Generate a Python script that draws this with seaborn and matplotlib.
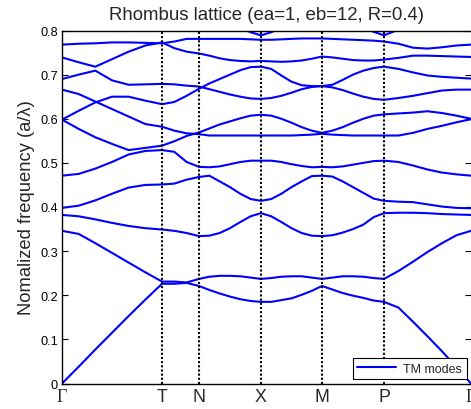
import numpy as np
import pandas as pd
import matplotlib
matplotlib.use("Agg")
import matplotlib.pyplot as plt
import seaborn as sns

# High-symmetry points of the k-path and their path positions
sym_labels = ["Γ", "T", "N", "X", "M", "P", "Γ"]
sym_k = [0.0, 1.00, 1.37, 1.99, 2.60, 3.22, 4.09]
seg_steps = [6, 3, 6, 6, 6, 6]  # k-samples in each segment

# TM band frequencies (a/lambda) at every k-sample
band_1 = [0.000, 0.038, 0.077, 0.115, 0.153, 0.190, 0.226, 0.226, 0.228, 0.221, 0.212, 0.204,
          0.197, 0.191, 0.187, 0.185, 0.185, 0.189, 0.193, 0.201, 0.210, 0.221, 0.213, 0.205,
          0.199, 0.194, 0.188, 0.185, 0.172, 0.140, 0.107, 0.073, 0.037, 0.000]
band_2 = [0.346, 0.339, 0.318, 0.296, 0.274, 0.252, 0.231, 0.231, 0.229, 0.237, 0.242, 0.244,
          0.244, 0.243, 0.240, 0.237, 0.239, 0.242, 0.243, 0.243, 0.240, 0.237, 0.240, 0.243,
          0.243, 0.242, 0.239, 0.237, 0.255, 0.276, 0.298, 0.318, 0.336, 0.346]
band_3 = [0.382, 0.379, 0.372, 0.364, 0.357, 0.352, 0.349, 0.346, 0.341, 0.334, 0.335, 0.341,
          0.352, 0.366, 0.379, 0.386, 0.379, 0.366, 0.352, 0.341, 0.335, 0.334, 0.336, 0.342,
          0.350, 0.360, 0.377, 0.386, 0.387, 0.387, 0.386, 0.384, 0.383, 0.382]
band_4 = [0.398, 0.403, 0.415, 0.430, 0.444, 0.450, 0.451, 0.453, 0.462, 0.468, 0.471, 0.458,
          0.445, 0.430, 0.418, 0.414, 0.418, 0.430, 0.445, 0.458, 0.470, 0.471, 0.469, 0.458,
          0.445, 0.432, 0.419, 0.414, 0.412, 0.411, 0.406, 0.401, 0.398, 0.397]
band_5 = [0.471, 0.475, 0.487, 0.502, 0.519, 0.527, 0.529, 0.525, 0.502, 0.491, 0.490, 0.492,
          0.497, 0.502, 0.505, 0.505, 0.505, 0.502, 0.497, 0.493, 0.490, 0.491, 0.490, 0.492,
          0.496, 0.500, 0.504, 0.505, 0.502, 0.494, 0.485, 0.478, 0.474, 0.471]
band_6 = [0.598, 0.577, 0.558, 0.543, 0.529, 0.534, 0.539, 0.549, 0.561, 0.569, 0.578, 0.587,
          0.594, 0.601, 0.607, 0.609, 0.607, 0.600, 0.591, 0.581, 0.573, 0.568, 0.573, 0.581,
          0.591, 0.600, 0.607, 0.610, 0.612, 0.614, 0.617, 0.613, 0.607, 0.600]
band_7 = [0.666, 0.656, 0.639, 0.622, 0.605, 0.588, 0.582, 0.573, 0.567, 0.565, 0.562, 0.562,
          0.562, 0.562, 0.562, 0.562, 0.562, 0.562, 0.562, 0.563, 0.564, 0.566, 0.564, 0.563,
          0.562, 0.562, 0.562, 0.562, 0.562, 0.568, 0.577, 0.584, 0.592, 0.599]
band_8 = [0.598, 0.618, 0.637, 0.650, 0.650, 0.641, 0.633, 0.638, 0.652, 0.668, 0.680, 0.690,
          0.700, 0.710, 0.717, 0.718, 0.713, 0.698, 0.684, 0.676, 0.674, 0.674, 0.677, 0.688,
          0.700, 0.709, 0.715, 0.718, 0.713, 0.705, 0.698, 0.695, 0.693, 0.691]
band_9 = [0.690, 0.700, 0.709, 0.687, 0.677, 0.678, 0.679, 0.678, 0.675, 0.673, 0.667, 0.661,
          0.655, 0.650, 0.646, 0.645, 0.647, 0.652, 0.659, 0.667, 0.672, 0.674, 0.671, 0.665,
          0.657, 0.650, 0.645, 0.643, 0.647, 0.652, 0.658, 0.664, 0.666, 0.666]
band_10 = [0.739, 0.728, 0.718, 0.735, 0.752, 0.766, 0.773, 0.760, 0.752, 0.748, 0.743, 0.737,
           0.733, 0.731, 0.730, 0.731, 0.730, 0.729, 0.730, 0.732, 0.736, 0.741, 0.739, 0.736,
           0.733, 0.732, 0.732, 0.734, 0.738, 0.743, 0.743, 0.742, 0.741, 0.740]
band_11 = [0.768, 0.770, 0.771, 0.773, 0.773, 0.772, 0.771, 0.775, 0.781, 0.781, 0.781, 0.781,
           0.781, 0.781, 0.780, 0.779, 0.779, 0.780, 0.781, 0.782, 0.782, 0.782, 0.781, 0.780,
           0.779, 0.778, 0.777, 0.775, 0.770, 0.761, 0.759, 0.762, 0.766, 0.768]
band_12 = [0.830, 0.830, 0.830, 0.830, 0.828, 0.826, 0.824, 0.822, 0.820, 0.816, 0.813, 0.810,
           0.808, 0.806, 0.796, 0.789, 0.796, 0.806, 0.810, 0.814, 0.818, 0.822, 0.818, 0.814,
           0.810, 0.806, 0.797, 0.789, 0.802, 0.810, 0.816, 0.822, 0.826, 0.830]

bands = [band_1, band_2, band_3, band_4, band_5, band_6,
         band_7, band_8, band_9, band_10, band_11, band_12]

# k-sample positions along the path
k = [sym_k[0]]
for i, n in enumerate(seg_steps):
    k += list(np.linspace(sym_k[i], sym_k[i + 1], n + 1)[1:])
k = np.array(k)

df = pd.DataFrame({
    "k": np.tile(k, len(bands)),
    "freq": np.concatenate(bands),
    "band": np.repeat(np.arange(len(bands)), len(k)),
    "mode": "TM modes",
})

sns.set_style("white")
plt.rcParams["font.family"] = ["Liberation Sans", "DejaVu Sans"]

W, H = 471, 410
fig = plt.figure(figsize=(W / 100, H / 100), dpi=100)
left, right, top, bottom = 62, 471, 31.5, 384.5
ax = fig.add_axes([left / W, 1 - bottom / H, (right - left) / W, (bottom - top) / H])

sns.lineplot(data=df, x="k", y="freq", hue="mode", units="band", estimator=None,
             palette={"TM modes": "#0000ff"}, lw=1.5, sort=False, ax=ax)

for xk in sym_k[1:-1]:
    ax.axvline(xk, color="black", lw=1.5, ls=(0, (1, 1)), zorder=3)

ax.set_xlim(sym_k[0], sym_k[-1])
ax.set_ylim(0, 0.8)
ax.set_xticks(sym_k)
ax.set_xticklabels(sym_labels, fontsize=12.8)
for lab in ax.get_xticklabels():
    if lab.get_text() == "Γ":
        lab.set_fontfamily(["Liberation Serif", "DejaVu Serif"])
ax.set_yticks(np.arange(0, 0.81, 0.1))
ax.set_yticklabels(["0"] + [f"{v:.1f}" for v in np.arange(0.1, 0.81, 0.1)], fontsize=9.2)
ax.tick_params(axis="x", length=0, pad=3)
ax.tick_params(axis="y", direction="in", length=4.5, width=0.8, pad=3,
               left=True, right=True, colors="black")

for side in ["left", "bottom", "top"]:
    ax.spines[side].set_color("black")
    ax.spines[side].set_linewidth(1.0)
ax.spines["right"].set_visible(False)

ax.set_xlabel("")
ax.set_ylabel("Nomalized frequency (a/λ)", fontsize=13.2)
ax.yaxis.set_label_coords(-0.065, 0.5)
ax.set_title("Rhombus lattice (ea=1, eb=12, R=0.4)", fontsize=13.4, pad=8.3)

handles, labels = ax.get_legend_handles_labels()
leg = ax.legend(handles, labels, loc="lower right", fontsize=9, frameon=True,
                fancybox=False, framealpha=1, edgecolor="black",
                borderaxespad=0.35, borderpad=0.35, handlelength=3.1, handletextpad=0.6)
leg.get_frame().set_linewidth(0.8)

fig.savefig("out.png", dpi=100, facecolor="white")
